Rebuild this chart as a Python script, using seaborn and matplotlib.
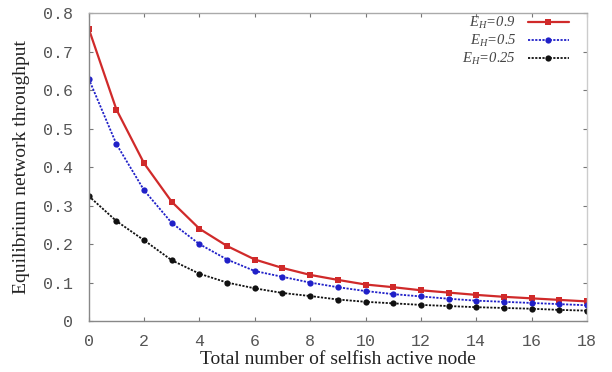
import matplotlib
matplotlib.use("Agg")
import matplotlib.pyplot as plt
import seaborn as sns
import pandas as pd

nodes = list(range(19))
e09 = [0.76, 0.55, 0.41, 0.31, 0.24, 0.195, 0.16, 0.138, 0.12, 0.107, 0.095, 0.088, 0.08, 0.074, 0.068, 0.063, 0.059, 0.055, 0.051]
e05 = [0.63, 0.46, 0.34, 0.255, 0.20, 0.16, 0.13, 0.115, 0.10, 0.088, 0.078, 0.07, 0.064, 0.058, 0.053, 0.05, 0.047, 0.044, 0.041]
e025 = [0.325, 0.26, 0.21, 0.158, 0.123, 0.10, 0.085, 0.073, 0.065, 0.056, 0.05, 0.046, 0.042, 0.039, 0.036, 0.034, 0.032, 0.029, 0.027]
labels = [r"$E_H$=0.9", r"$E_H$=0.5", r"$E_H$=0.25"]

sns.set_style("ticks")
plt.rcParams["mathtext.fontset"] = "custom"
plt.rcParams["mathtext.it"] = "Liberation Serif:italic"
plt.rcParams["mathtext.rm"] = "Liberation Serif"

fig = plt.figure(figsize=(6.12, 3.72), dpi=100)
ax = fig.add_axes([0.145, 0.137, 0.814, 0.827])

styles = [
    dict(color="#d02a2a", linestyle="-", marker="s", markersize=5, linewidth=1.6),
    dict(color="#2020c8", linestyle=(0, (1.2, 0.8)), marker="o", markersize=4.5, linewidth=1.3),
    dict(color="#111111", linestyle=(0, (1.2, 0.8)), marker="o", markersize=4.5, linewidth=1.3),
]
for ys, lab, st in zip([e09, e05, e025], labels, styles):
    df = pd.DataFrame({"x": nodes, "y": ys})
    sns.lineplot(data=df, x="x", y="y", ax=ax, label=lab, markeredgewidth=0, **st)

ax.set_xlim(0, 18)
ax.set_ylim(0, 0.8)
ax.set_xticks(range(0, 19, 2))
ax.set_yticks([0, 0.1, 0.2, 0.3, 0.4, 0.5, 0.6, 0.7, 0.8])
ax.set_yticklabels(["0", "0.1", "0.2", "0.3", "0.4", "0.5", "0.6", "0.7", "0.8"])
ax.tick_params(direction="in", top=True, right=True, length=3, width=0.8, color="#777777", labelcolor="#555555", pad=11)
for lbl in ax.get_xticklabels():
    lbl.set_family("Liberation Mono")
    lbl.set_fontsize(12)
    lbl.set_x(0)
for lbl in ax.get_yticklabels():
    lbl.set_family("Liberation Mono")
    lbl.set_fontsize(12)
ax.tick_params(axis="x", pad=9)
for s in ax.spines.values():
    s.set_color("#888888")
    s.set_linewidth(1.0)
ax.spines["top"].set_color("#aaaaaa")
ax.spines["right"].set_color("#cccccc")

ax.set_xlabel("Total number of selfish active node", family="Liberation Serif", fontsize=14, color="#222222", labelpad=2)
ax.set_ylabel("Equilibrium network throughput", family="Liberation Serif", fontsize=14, color="#222222", labelpad=10)

leg = ax.legend(loc="upper right", frameon=False, markerfirst=False, handlelength=2.8,
                prop={"family": "Liberation Serif", "style": "italic", "size": 10.5},
                bbox_to_anchor=(0.975, 1.015), borderaxespad=0.0, labelspacing=0.15, handletextpad=0.8)
for t in leg.get_texts():
    t.set_color("#444444")

fig.savefig("out.png", dpi=100)
